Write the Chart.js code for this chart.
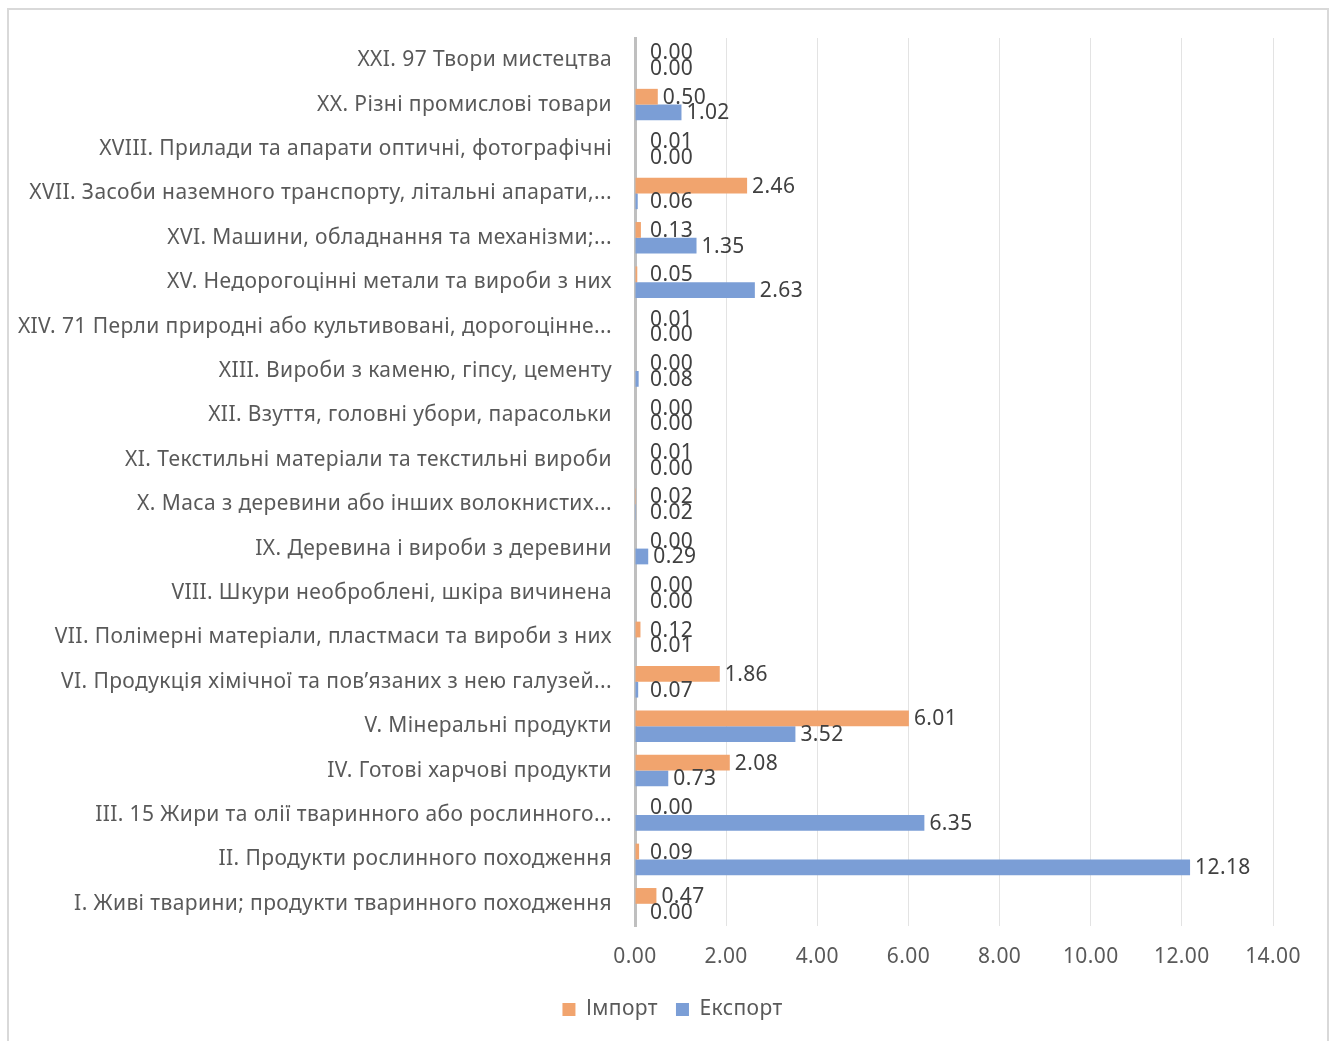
<!DOCTYPE html>
<html>
<head>
<meta charset="utf-8">
<script src="https://cdn.jsdelivr.net/npm/chart.js@4.4.1/dist/chart.umd.min.js"></script>
<style>
    html, body { margin: 0; padding: 0; background: #ffffff; }
    #wrap { position: relative; width: 1336px; height: 1041px; overflow: hidden; }
    #frame {
        position: absolute; left: 7px; top: 8px; width: 1322px; height: 1040px;
        border: 2px solid #d9d9d9; border-bottom: none; box-sizing: border-box;
    }
    canvas { position: absolute; left: 0; top: 0; }
</style>
</head>
<body>
<div id="wrap">
    <div id="frame"></div>
    <canvas id="chart" width="1336" height="1041"></canvas>
</div>
<script>
// categories, top to bottom as in the picture
const categories = [
    'XXI. 97 Твори мистецтва',
    'XX. Різні промислові товари',
    'XVIII. Прилади та апарати оптичні, фотографічні',
    'XVII. Засоби наземного транспорту, літальні апарати,...',
    'XVI. Машини, обладнання та механізми;...',
    'XV. Недорогоцінні метали та вироби з них',
    'XIV. 71 Перли природні або культивовані, дорогоцінне...',
    'XIII. Вироби з каменю, гіпсу, цементу',
    'XII. Взуття, головні убори, парасольки',
    'XI. Текстильні матеріали та текстильні вироби',
    'X. Маса з деревини або інших волокнистих...',
    'IX. Деревина і вироби з деревини',
    'VIII. Шкури необроблені, шкіра вичинена',
    'VII. Полімерні матеріали, пластмаси та вироби з них',
    'VI. Продукція хімічної та пов’язаних з нею галузей...',
    'V. Мінеральні продукти',
    'IV. Готові харчові продукти',
    'III. 15 Жири та олії тваринного або рослинного...',
    'II. Продукти рослинного походження',
    'I. Живі тварини; продукти тваринного походження'
];

const importValues = [0.00, 0.50, 0.01, 2.46, 0.13, 0.05, 0.01, 0.00, 0.00, 0.01,
                      0.02, 0.00, 0.00, 0.12, 1.86, 6.01, 2.08, 0.00, 0.09, 0.47];
const exportValues = [0.00, 1.02, 0.00, 0.06, 1.35, 2.63, 0.00, 0.08, 0.00, 0.00,
                      0.02, 0.29, 0.00, 0.01, 0.07, 3.52, 0.73, 6.35, 12.18, 0.00];

const xTicks = [0, 2, 4, 6, 8, 10, 12, 14];

const FONT = 'Noto Sans';

// the original text is a bit spread out, so widen all canvas text a little;
// the legend sits a bit right of the centre in the original
const spacing = {
    id: 'spacing',
    beforeLayout(chart) {
        chart.ctx.letterSpacing = '0.4px';
    },
    afterLayout(chart) {
        chart.legend.left += 36;
        chart.legend.right += 36;
    },
    beforeDraw(chart) {
        chart.ctx.letterSpacing = '0.4px';
    }
};

// value labels at the end of each bar
const valueLabels = {
    id: 'valueLabels',
    afterDatasetsDraw(chart) {
        const ctx = chart.ctx;
        const left = chart.chartArea.left;
        ctx.save();
        ctx.font = '21px "' + FONT + '"';
        ctx.fillStyle = '#404040';
        ctx.textAlign = 'left';
        ctx.textBaseline = 'middle';
        chart.data.datasets.forEach((ds, di) => {
            chart.getDatasetMeta(di).data.forEach((bar, i) => {
                const x = Math.max(bar.x + 5, left + 15);
                ctx.fillText(ds.data[i].toFixed(2), x, bar.y + 1);
            });
        });
        ctx.restore();
    }
};

new Chart(document.getElementById('chart'), {
    type: 'bar',
    data: {
        labels: categories,
        datasets: [
            {
                label: 'Імпорт',
                data: importValues,
                backgroundColor: '#f1a46e',
                categoryPercentage: 0.71,
                barPercentage: 1.0
            },
            {
                label: 'Експорт',
                data: exportValues,
                backgroundColor: '#7b9ed6',
                categoryPercentage: 0.71,
                barPercentage: 1.0
            }
        ]
    },
    options: {
        indexAxis: 'y',
        responsive: false,
        animation: false,
        layout: { padding: { top: 38, right: 63, bottom: 11, left: 0 } },
        plugins: {
            legend: {
                position: 'bottom',
                labels: {
                    color: '#595959',
                    font: { family: FONT, size: 21 },
                    boxWidth: 13,
                    boxHeight: 13,
                    padding: 18
                }
            },
            tooltip: { enabled: false }
        },
        scales: {
            x: {
                min: 0,
                max: 14,
                afterBuildTicks(scale) {
                    scale.ticks = xTicks.map(v => ({ value: v }));
                },
                afterFit(scale) { scale.height = 55; },
                ticks: {
                    color: '#595959',
                    font: { family: FONT, size: 21 },
                    padding: 18,
                    callback: v => Number(v).toFixed(2)
                },
                grid: { color: '#e3e3e3', lineWidth: 1, drawTicks: false },
                border: { display: false }
            },
            y: {
                afterFit(scale) { scale.width = 635; },
                ticks: {
                    color: '#595959',
                    font: { family: FONT, size: 21 },
                    padding: 23,
                    autoSkip: false
                },
                grid: { display: false, drawTicks: false },
                border: { color: '#bfbfbf', width: 3 }
            }
        }
    },
    plugins: [spacing, valueLabels]
});
</script>
</body>
</html>
